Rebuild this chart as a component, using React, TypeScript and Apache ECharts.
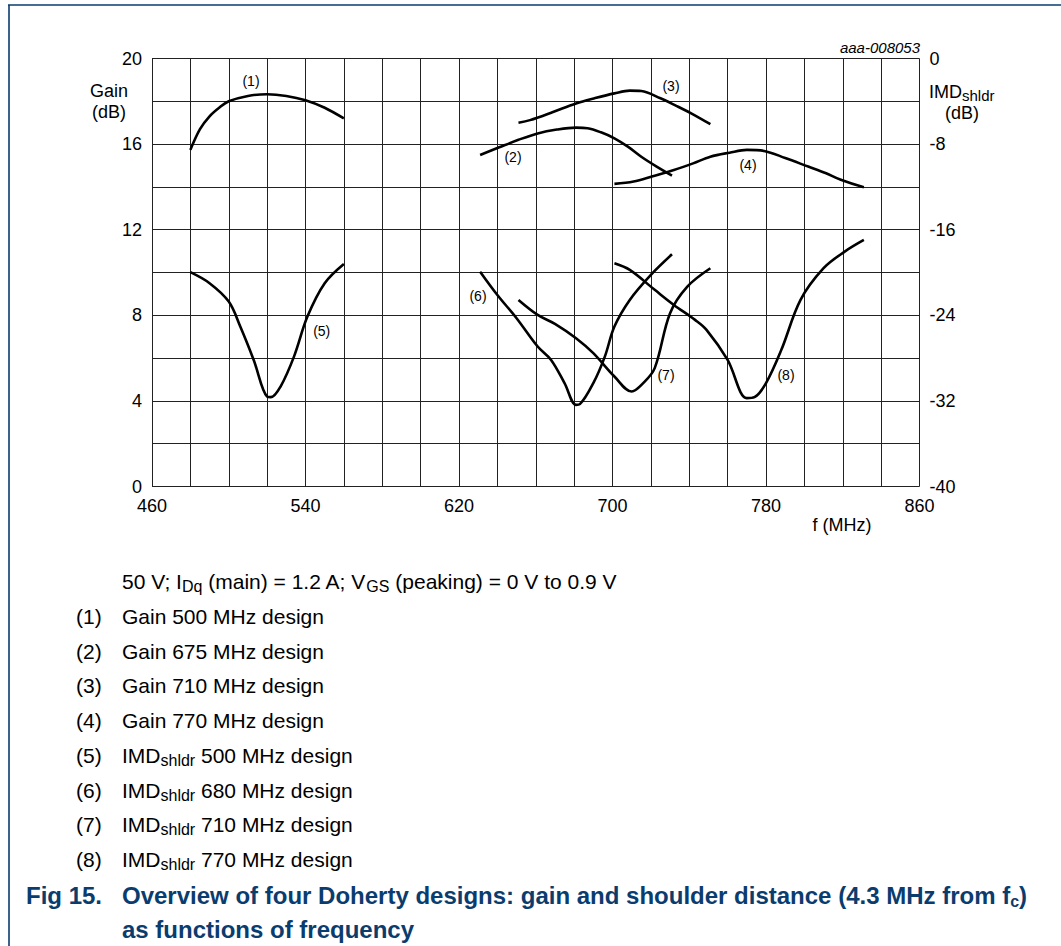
import React, { useEffect, useRef } from "react";
import * as echarts from "echarts";

// ---- data ----
const fGain1 = [480, 485, 490, 495, 500, 510, 520, 530, 540, 550, 560];
const gain1 = [15.73, 16.7, 17.3, 17.7, 18.0, 18.25, 18.33, 18.25, 18.05, 17.7, 17.2];

const fGain2 = [631, 641, 651, 661, 671, 681, 687, 694, 701, 708, 715, 723, 731];
const gain2 = [15.49, 15.85, 16.2, 16.5, 16.68, 16.77, 16.74, 16.55, 16.27, 15.88, 15.41, 14.95, 14.53];

const fGain3 = [651, 657, 669, 681, 691, 701, 709, 715, 725, 733, 741, 751];
const gain3 = [17.0, 17.12, 17.5, 17.9, 18.15, 18.37, 18.5, 18.48, 18.14, 17.8, 17.44, 16.93];

const fGain4 = [701, 711, 721, 732, 742, 751, 761, 770, 779, 790, 802, 811, 819, 831];
const gain4 = [14.14, 14.25, 14.5, 14.79, 15.1, 15.41, 15.6, 15.73, 15.68, 15.35, 14.95, 14.65, 14.33, 13.98];

const fImd5 = [480, 490, 500, 506, 513, 520, 522, 527, 534, 541, 550, 560];
const imd5 = [-19.97, -21.0, -22.72, -25.05, -28.17, -31.6, -31.65, -30.66, -27.86, -24.12, -21.0, -19.2];

const fImd6 = [631, 640, 650, 661, 668, 675, 681, 683, 690, 696, 701, 709, 720, 731];
const imd6 = [-19.92, -22.1, -24.27, -26.92, -28.17, -30.34, -32.37, -32.3, -30.34, -27.86, -25.05, -22.56, -20.22, -18.3];

const fImd7 = [651, 661, 670, 681, 690, 701, 710, 716, 722, 730, 739, 751];
const imd7 = [-22.56, -23.96, -24.8, -26.14, -27.54, -29.72, -31.12, -30.34, -28.94, -23.8, -21.32, -19.6];

const fImd8 = [701, 709, 722, 732, 743, 749, 760, 770, 774, 780, 788, 798, 810, 821, 831];
const imd8 = [-19.14, -19.76, -21.62, -23.03, -24.43, -25.36, -28.17, -31.74, -31.65, -30.34, -27.23, -22.56, -19.6, -18.05, -16.96];

const leftTicks = [0, 4, 8, 12, 16, 20];
const bottomTicks = [460, 540, 620, 700, 780, 860];

const curveLabels = ["(1)", "(2)", "(3)", "(4)", "(5)", "(6)", "(7)", "(8)"];
const legendItems = [
  "Gain 500 MHz design",
  "Gain 675 MHz design",
  "Gain 710 MHz design",
  "Gain 770 MHz design",
  "{s|shldr} 500 MHz design",
  "{s|shldr} 680 MHz design",
  "{s|shldr} 710 MHz design",
  "{s|shldr} 770 MHz design",
];

const FONT = "'Liberation Sans', Arial, Helvetica, sans-serif";
const NAVY = "#0b3c6e";

function zip(xs: number[], ys: number[]) {
  return xs.map((x, i) => [x, ys[i]]);
}

export default function App() {
  const ref = useRef<HTMLDivElement>(null);
  useEffect(() => {
    if (!ref.current) return;
    const chart = echarts.init(ref.current, undefined, { renderer: "svg" });

    const lineSeries = (name: string, xs: number[], ys: number[], axis: number) => ({
      name,
      type: "line",
      yAxisIndex: axis,
      data: zip(xs, ys),
      smooth: 0.35,
      showSymbol: false,
      symbol: "none",
      lineStyle: { color: "#000", width: 2.6 },
      silent: true,
    });

    const labelPos = [
      [251, 81], [513, 157], [671, 86], [748, 164.5],
      [321.7, 330.5], [478, 296], [666, 375], [786, 375],
    ];

    const sub = { fontSize: 15, fontFamily: FONT, verticalAlign: "bottom", lineHeight: 15, fill: "#000" };

    const graphics: any[] = [
      { type: "line", shape: { x1: 8, y1: 5, x2: 1061, y2: 5 }, style: { stroke: NAVY, lineWidth: 1.6 } },
      { type: "line", shape: { x1: 9, y1: 5, x2: 9, y2: 946 }, style: { stroke: NAVY, lineWidth: 1.6 } },
      { type: "text", style: { x: 920, y: 47, text: "aaa-008053", fontSize: 15, fontStyle: "italic", fontFamily: FONT, fill: "#000", textAlign: "right", textVerticalAlign: "middle" } },
      { type: "text", style: { x: 109, y: 91, text: "Gain", fontSize: 18, fontFamily: FONT, fill: "#000", textAlign: "center", textVerticalAlign: "middle" } },
      { type: "text", style: { x: 109, y: 112, text: "(dB)", fontSize: 18, fontFamily: FONT, fill: "#000", textAlign: "center", textVerticalAlign: "middle" } },
      {
        type: "text",
        style: {
          x: 929, y: 92, text: "IMD{s|shldr}", fontSize: 18, fontFamily: FONT, fill: "#000",
          textAlign: "left", textVerticalAlign: "middle", lineHeight: 22,
          rich: { s: { ...sub } },
        },
      },
      { type: "text", style: { x: 962, y: 113, text: "(dB)", fontSize: 18, fontFamily: FONT, fill: "#000", textAlign: "center", textVerticalAlign: "middle" } },
      { type: "text", style: { x: 842, y: 525, text: "f (MHz)", fontSize: 18, fontFamily: FONT, fill: "#000", textAlign: "center", textVerticalAlign: "middle" } },
    ];

    curveLabels.forEach((t, i) => {
      graphics.push({
        type: "text",
        style: { x: labelPos[i][0], y: labelPos[i][1], text: t, fontSize: 14, fontFamily: FONT, fill: "#000", textAlign: "center", textVerticalAlign: "middle" },
      });
    });

    graphics.push({
      type: "text",
      style: {
        x: 122, y: 581,
        text: "50 V; I{s|Dq} (main) = 1.2 A; V{s|GS} (peaking) = 0 V to 0.9 V",
        fontSize: 21, fontFamily: FONT, fill: "#000", lineHeight: 26,
        textAlign: "left", textVerticalAlign: "middle",
        rich: { s: { ...sub, fontSize: 16, lineHeight: 16 } },
      },
    });

    const rowY = [616, 651, 685, 720, 755, 790, 824, 859];
    legendItems.forEach((t, i) => {
      graphics.push({
        type: "text",
        style: { x: 76, y: rowY[i], text: `(${i + 1})`, fontSize: 21, fontFamily: FONT, fill: "#000", textAlign: "left", textVerticalAlign: "middle" },
      });
      const txt = t.startsWith("{s|") ? "{m|IMD}" + t : t;
      graphics.push({
        type: "text",
        style: {
          x: 122, y: rowY[i], text: txt, fontSize: 21, fontFamily: FONT, fill: "#000", lineHeight: 26,
          textAlign: "left", textVerticalAlign: "middle",
          rich: {
            m: { fontSize: 21, fontFamily: FONT, fill: "#000", lineHeight: 26 },
            s: { ...sub, fontSize: 16, lineHeight: 16 },
          },
        },
      });
    });

    graphics.push({
      type: "text",
      style: { x: 26, y: 895, text: "Fig 15.", fontSize: 24, fontWeight: "bold", fontFamily: FONT, fill: NAVY, textAlign: "left", textVerticalAlign: "middle" },
    });
    graphics.push({
      type: "text",
      style: {
        x: 122, y: 895,
        text: "Overview of four Doherty designs: gain and shoulder distance (4.3 MHz from f{s|c})",
        fontSize: 24, fontWeight: "bold", fontFamily: FONT, fill: NAVY, lineHeight: 28,
        textAlign: "left", textVerticalAlign: "middle",
        rich: { s: { fontSize: 16, fontWeight: "bold", fontFamily: FONT, fill: NAVY, verticalAlign: "bottom", lineHeight: 16 } },
      },
    });
    graphics.push({
      type: "text",
      style: { x: 122, y: 929, text: "as functions of frequency", fontSize: 24, fontWeight: "bold", fontFamily: FONT, fill: NAVY, textAlign: "left", textVerticalAlign: "middle" },
    });

    chart.setOption({
      animation: false,
      backgroundColor: "#fff",
      grid: { left: 152, top: 58.5, width: 767.5, height: 428, containLabel: false },
      xAxis: {
        type: "value",
        min: 460,
        max: 860,
        interval: 20,
        axisLine: { show: false },
        axisTick: { show: false },
        splitLine: { show: true, lineStyle: { color: "#222", width: 1 } },
        axisLabel: {
          margin: 10,
          fontSize: 18,
          fontFamily: FONT,
          color: "#000",
          formatter: (v: number) => (bottomTicks.includes(v) ? String(v) : ""),
        },
      },
      yAxis: [
        {
          type: "value",
          min: 0,
          max: 20,
          interval: 2,
          position: "left",
          axisLine: { show: false },
          axisTick: { show: false },
          splitLine: { show: true, lineStyle: { color: "#222", width: 1 } },
          axisLabel: {
            margin: 10,
            fontSize: 18,
            fontFamily: FONT,
            color: "#000",
            formatter: (v: number) => (leftTicks.includes(v) ? String(v) : ""),
          },
        },
        {
          type: "value",
          min: -40,
          max: 0,
          interval: 8,
          position: "right",
          axisLine: { show: false },
          axisTick: { show: false },
          splitLine: { show: false },
          axisLabel: { margin: 10, fontSize: 18, fontFamily: FONT, color: "#000" },
        },
      ],
      series: [
        lineSeries("Gain 500", fGain1, gain1, 0),
        lineSeries("Gain 675", fGain2, gain2, 0),
        lineSeries("Gain 710", fGain3, gain3, 0),
        lineSeries("Gain 770", fGain4, gain4, 0),
        lineSeries("IMD 500", fImd5, imd5, 1),
        lineSeries("IMD 680", fImd6, imd6, 1),
        lineSeries("IMD 710", fImd7, imd7, 1),
        lineSeries("IMD 770", fImd8, imd8, 1),
      ],
      graphic: graphics,
    });

    return () => chart.dispose();
  }, []);

  return (
    <div
      ref={ref}
      style={{ position: "absolute", left: 0, top: 0, width: 1061, height: 946 }}
    />
  );
}
